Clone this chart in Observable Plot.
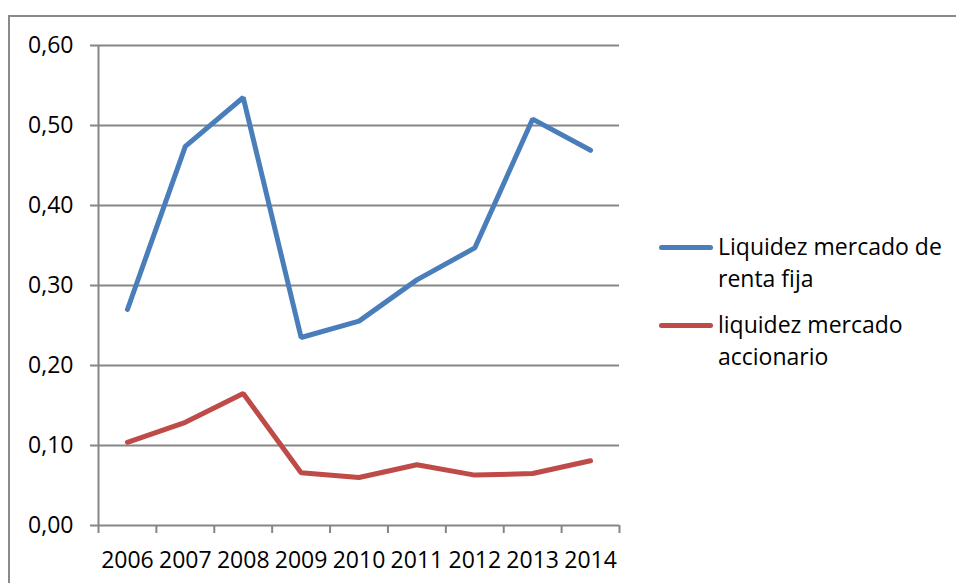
<!DOCTYPE html>
<html>
<head>
<meta charset="utf-8">
<script src="https://cdn.jsdelivr.net/npm/d3@7"></script>
<script src="https://cdn.jsdelivr.net/npm/@observablehq/plot@0.6"></script>
<style>
  html, body { margin: 0; padding: 0; background: #fff; }
  #wrap { position: relative; width: 956px; height: 583px; overflow: hidden; font-family: "Open Sans", sans-serif; }
  #frame { position: absolute; left: 8px; top: 15px; width: 960px; height: 600px; border: 2px solid #8a8a8a; box-sizing: border-box; }
  #chart { position: absolute; left: 0; top: 0; }
  #legend { position: absolute; left: 659px; top: 230px; font-size: 23px; color: #000; }
  .item { position: relative; padding-left: 59px; line-height: 32px; margin-bottom: 14px; }
  .swatch { position: absolute; left: 0; top: 15px; width: 54px; height: 5px; border-radius: 3px; }
</style>
</head>
<body>
<div id="wrap">
  <div id="frame"></div>
  <div id="chart"></div>
  <div id="legend"></div>
</div>
<script>
const years = [2006, 2007, 2008, 2009, 2010, 2011, 2012, 2013, 2014];
const rentaFija = [0.270, 0.474, 0.535, 0.235, 0.2555, 0.307, 0.347, 0.508, 0.469];
const accionario = [0.104, 0.129, 0.165, 0.066, 0.060, 0.076, 0.063, 0.065, 0.081];
const seriesNames = ["Liquidez mercado de renta fija", "liquidez mercado accionario"];
const seriesColors = ["#4A7EBB", "#BE4B48"];
const yTicks = [0, 0.1, 0.2, 0.3, 0.4, 0.5, 0.6];

const data = [];
years.forEach((yr, i) => {
  data.push({year: yr, value: rentaFija[i], series: seriesNames[0]});
  data.push({year: yr, value: accionario[i], series: seriesNames[1]});
});
const boundaries = [years[0] - 0.5, ...years.map(y => y + 0.5)];
const xMin = boundaries[0], xMax = boundaries[boundaries.length - 1];
const fmt = v => d3.format(".2f")(v).replace(".", ",");
const grid = "#868686";

const chart = Plot.plot({
  width: 956,
  height: 583,
  marginLeft: 98,
  marginRight: 337,
  marginTop: 45,
  marginBottom: 58,
  style: {fontFamily: "Open Sans, sans-serif", fontSize: "23px", color: "#000", background: "transparent", overflow: "visible"},
  x: {type: "linear", domain: [xMin, xMax]},
  y: {type: "linear", domain: [0, 0.6]},
  color: {domain: seriesNames, range: seriesColors},
  marks: [
    // gridlines
    Plot.ruleY(yTicks, {x1: xMin, x2: xMax, stroke: grid, strokeWidth: 2, strokeOpacity: 1}),
    // y axis with left ticks
    Plot.axisY({ticks: yTicks, tickFormat: fmt, tickSize: 8, tickPadding: 17, stroke: grid, strokeWidth: 2, strokeOpacity: 1, fontSize: 23, fill: "#000", label: null}),
    // x axis tick marks at category boundaries
    Plot.axisX({ticks: boundaries, tickFormat: () => "", tickSize: 8, stroke: grid, strokeWidth: 2, strokeOpacity: 1, label: null}),
    // y axis line
    Plot.ruleX([xMin], {stroke: grid, strokeWidth: 2, strokeOpacity: 1}),
    // year labels
    Plot.text(years, {x: d => d, y: 0, text: d => String(d), dy: 35, fontSize: 23, fill: "#000"}),
    // series lines
    Plot.line(data, {x: "year", y: "value", stroke: "series", z: "series", strokeWidth: 5, strokeLinejoin: "miter", strokeLinecap: "round"})
  ]
});
document.getElementById("chart").appendChild(chart);

// legend
const legend = d3.select("#legend");
const legendLines = [["Liquidez mercado de", "renta fija"], ["liquidez mercado", "accionario"]];
seriesNames.forEach((name, i) => {
  const item = legend.append("div").attr("class", "item").attr("title", name);
  item.append("div").attr("class", "swatch").style("background", seriesColors[i]);
  legendLines[i].forEach((t, j) => {
    if (j) item.append("br");
    item.append("span").text(t);
  });
});
</script>
</body>
</html>
